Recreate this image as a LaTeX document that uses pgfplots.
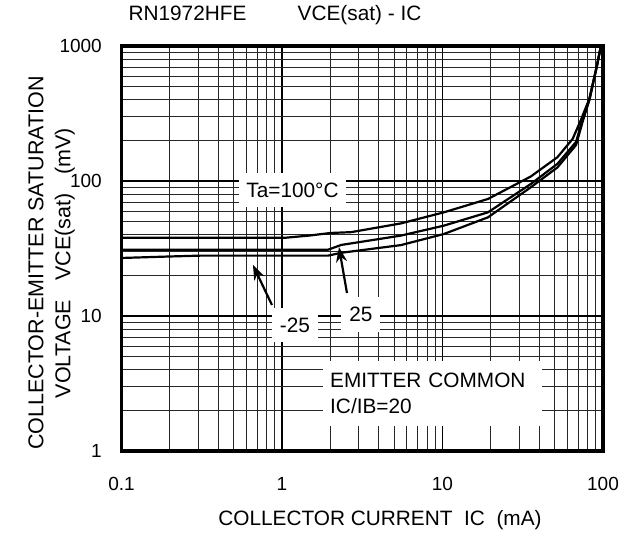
\documentclass[border=0pt]{standalone}
\usepackage{fontspec}
\setmainfont{Liberation Sans}
\usepackage{pgfplots}
\usepackage{pgfplotstable}
\pgfplotsset{compat=1.18}
\usetikzlibrary{arrows.meta}

\pgfplotstableread{
x y
0.1 38
1.05 38
1.5 39.5
2.0 41.2
2.7 41.8
5.5 48.5
10.2 58.6
19.2 73.6
35.5 108
52 150
64.7 205
73 285
82 404
91.6 711
97 1000
}\tabHot

\pgfplotstableread{
x y
0.1 31
1.94 31
2.34 33.6
5.5 39.4
10.2 46.7
19.2 58.6
35.5 95
52 134
68 195
74.5 285
82.5 404
91.6 711
97 1000
}\tabRoom

\pgfplotstableread{
x y
0.1 26.9
0.2 27.6
0.31 28
1.94 28
2.34 29.4
5.5 33.5
10.2 40.5
19.2 53.8
35.5 89.8
52 126
68 185
75 280
82.5 404
91.6 711
97 1000
}\tabCold

\begin{document}
\begin{tikzpicture}[font=\fontsize{20.8bp}{26bp}\selectfont]
\useasboundingbox (-121.5bp,-85bp) rectangle (510.5bp,451bp);
\begin{axis}[
  at={(0,0)}, anchor=south west,
  scale only axis, width=481.5bp, height=405bp,
  xmode=log, ymode=log,
  xmin=0.1, xmax=100, ymin=1, ymax=1000,
  xtick={0.1,1,10,100},
  xticklabels={0.1,{1\hspace{11bp}},{10\hspace{24bp}},{100\hspace{26bp}}},
  ytick={1,10,100,1000},
  yticklabels={1,10,100,1000},
  major tick length=0pt, minor tick length=0pt,
  grid=both,
  major grid style={black, line width=1.2bp},
  minor grid style={black!85, line width=0.8bp},
  axis line style={black, line width=3.5bp},
  ticklabel style={font=\fontsize{19bp}{22bp}\selectfont},
  xticklabel style={anchor=base, yshift=-39bp},
  yticklabel style={anchor=east, inner xsep=0pt, xshift=-19.5bp},
  clip=true,
]
\addplot[black, line width=2.2bp, line join=round] table[x=x,y=y] {\tabHot};
\addplot[black, line width=2.2bp, line join=round] table[x=x,y=y] {\tabRoom};
\addplot[black, line width=2.2bp, line join=round] table[x=x,y=y] {\tabCold};

\node[fill=white, inner xsep=7bp, inner ysep=10bp] at (axis cs:1.162,85.8) {Ta=100°C};
\node[fill=white, inner xsep=8bp, inner ysep=10bp] at (axis cs:1.205,8.58) {-25};
\node[fill=white, inner xsep=8bp, inner ysep=10bp] at (axis cs:3.10,10.2) {25};
\node[fill=white, anchor=west, align=left, text width=205bp, inner xsep=7bp, inner ysep=12bp] at (axis cs:1.801,2.67) {EMITTER COMMON\\IC/IB=20};

\draw[black, line width=2.2bp, -{Stealth[length=15bp,width=11bp]}] (axis cs:0.866,12.06) -- (axis cs:0.659,23.9);
\draw[black, line width=2.2bp, -{Stealth[length=15bp,width=11bp]}] (axis cs:2.54,14.8) -- (axis cs:2.265,32.4);
\end{axis}
\node[anchor=base] at (66bp,430bp) {RN1972HFE};
\node[anchor=base] at (238bp,430bp) {VCE(sat) - IC};
\node[anchor=base] at (258.5bp,-74bp) {COLLECTOR CURRENT\ \ IC\ \ (mA)};
\node[rotate=90, align=center, font=\fontsize{21.5bp}{27bp}\selectfont] at (-70bp,188bp) {COLLECTOR-EMITTER SATURATION\\VOLTAGE\hspace{19bp}VCE(sat)\hspace{19bp}(mV)};
\end{tikzpicture}
\end{document}
